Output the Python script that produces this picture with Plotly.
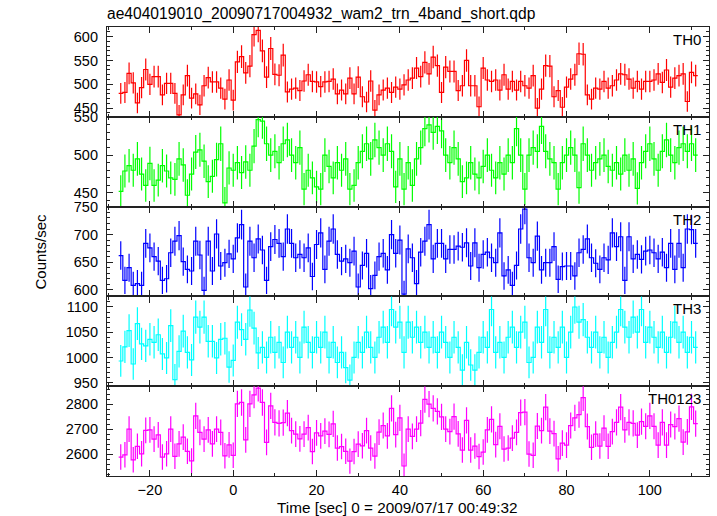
import numpy as np
import plotly.graph_objects as go
from plotly.subplots import make_subplots

time = list(range(-27, 112))  # 1-s bin centres

th0 = [481, 483, 523, 503, 461, 493, 531, 500, 516, 516, 478, 502, 502, 481, 436, 478, 518, 471, 480, 457,
       497, 514, 505, 505, 492, 469, 509, 467, 547, 558, 524, 538, 604, 613, 570, 515, 575, 521, 519, 561,
       484, 490, 492, 487, 507, 520, 506, 505, 495, 505, 506, 511, 480, 488, 480, 513, 480, 515, 474, 463,
       507, 446, 478, 488, 492, 483, 494, 490, 499, 509, 513, 534, 516, 546, 522, 557, 539, 483, 536, 527,
       527, 487, 497, 550, 497, 497, 453, 534, 509, 506, 509, 488, 520, 490, 506, 488, 506, 497, 492, 518,
       450, 490, 539, 538, 474, 487, 452, 494, 511, 520, 564, 563, 478, 469, 492, 490, 506, 492, 497, 509,
       522, 520, 511, 492, 506, 490, 506, 506, 509, 522, 504, 530, 494, 513, 518, 522, 464, 525, 518]

th1 = [452, 479, 486, 480, 495, 475, 460, 489, 460, 467, 486, 479, 470, 468, 495, 487, 447, 475, 504, 507,
       492, 465, 472, 494, 515, 437, 483, 480, 490, 477, 491, 480, 512, 547,
       545, 515, 500, 505, 490, 515, 520, 500, 490, 510, 455, 480, 470, 458, 455, 500, 485, 470, 490, 480,
       495, 455, 460, 490, 505, 515, 495, 520, 510, 500, 515, 505, 458, 495, 455, 490, 460, 495, 510, 535,
       540, 530, 538, 532, 500, 490, 510, 495, 465, 470, 490, 475, 470, 485, 500, 480, 470, 490, 475, 500,
       490, 535, 500, 455, 500, 510, 505, 538, 505, 495, 490, 455, 490, 500, 510, 500, 457, 515, 500, 480,
       490, 495, 500, 485, 480, 490, 475, 500, 480, 495, 456, 490, 505, 515, 495, 480, 505, 520, 500, 490,
       510, 515, 505, 515, 500]

th2 = [662, 617, 640, 608, 611, 608, 684, 676, 660, 652, 617, 620, 667, 688, 698, 651, 637, 634, 688, 663,
       599, 688, 634, 701, 643, 649, 665, 656, 694, 718, 605, 688, 658, 692, 672, 617, 678, 691, 684, 660,
       710, 684, 658, 664, 658, 676, 624, 682, 703, 637, 688, 710, 664, 652, 656, 649, 670, 605, 644, 666,
       602, 626, 660, 666, 636, 700, 666, 690, 592, 674, 658, 611, 668, 688, 718, 656, 684, 684, 656, 673,
       673, 679, 677, 685, 643, 685, 640, 664, 668, 658, 649, 703, 625, 636, 608, 644, 710, 746, 658, 649,
       697, 636, 649, 649, 678, 619, 642, 643, 643, 625, 667, 673, 692, 658, 648, 637, 658, 654, 703, 678,
       696, 617, 696, 656, 664, 655, 670, 672, 667, 656, 668, 640, 684, 637, 684, 640, 710, 709, 684]

th3 = [993, 1021, 1053, 987, 1067, 1027, 1023, 1036, 1030, 1045, 1007, 999, 1063, 956, 1012, 1052, 1010, 995,
       1080, 1060, 1080, 1032, 1032, 999, 1036, 1038, 981, 994, 1070, 1055, 1036, 1094, 1058, 1009,
       1020, 1000, 1040, 1010, 1030, 990, 1050, 1020, 1040, 1000, 1060, 1030, 1010, 1040, 1020, 1050, 1000,
       1030, 990, 1010, 980, 955, 1000, 1030, 1010, 1050, 1020, 1000, 1040, 1060, 1030, 1095, 1060, 1070,
       1010, 1070, 1040, 1060, 1030, 1050, 1020, 1040, 1010, 1050, 1030, 1000, 1040, 1020, 975, 1030, 985,
       975, 1010, 1040, 1020, 1095, 1010, 1030, 1000, 1040, 1060, 1020, 1050, 1070, 990, 1000, 1060, 1030,
       1095, 1010, 1040, 1020, 1060, 1000, 1050, 1100, 1070, 1075, 1040, 1020, 1050, 1010, 1040, 1000, 1030,
       1050, 1095, 1060, 1040, 1080, 1050, 1095, 1030, 1060, 1040, 1020, 1050, 1010, 1040, 1070, 1030, 1050,
       1010, 1040, 1020]

th0123 = [2588, 2597, 2700, 2577, 2631, 2601, 2695, 2697, 2660, 2677, 2588, 2601, 2700, 2591, 2641,
          2668, 2611, 2573, 2753, 2687, 2660, 2697, 2641, 2700, 2687, 2593, 2637, 2595, 2801, 2807,
          2657, 2801, 2837, 2864,
          2807, 2647, 2793, 2727, 2723, 2726, 2764, 2694, 2680, 2661, 2680, 2706, 2610, 2685, 2673, 2692,
          2679, 2721, 2624, 2630,
          2611, 2572, 2610, 2640, 2633, 2694, 2624, 2592, 2688, 2714, 2673, 2783, 2678, 2745, 2552, 2700,
          2671, 2700, 2724, 2819,
          2800, 2783, 2771, 2749, 2700, 2690, 2750, 2681, 2616, 2735, 2616, 2632, 2590, 2608, 2697, 2739,
          2638, 2711, 2620, 2624,
          2664, 2687, 2766, 2768, 2600, 2595, 2712, 2694, 2788, 2692, 2682, 2581, 2644, 2636, 2714, 2745,
          2758, 2826, 2710, 2627,
          2680, 2632, 2704, 2631, 2690, 2727, 2788, 2697, 2727, 2723, 2676, 2730, 2711, 2753, 2711, 2636,
          2727, 2636, 2718, 2710,
          2742, 2648, 2689, 2789, 2722]

panel_names = ["TH0", "TH1", "TH2", "TH3", "TH0123"]
series = [th0, th1, th2, th3, th0123]
colors = ["#ff0000", "#00ff00", "#0000ff", "#00ffff", "#ff00ff"]
y_ranges = [[432, 620], [432, 550.6], [588, 750.6], [943, 1121], [2512, 2872]]
y_dticks = [50, 50, 50, 50, 100]
y_minor = [10, 10, 10, 10, 20]

font = "Liberation Sans, Arial, Helvetica, sans-serif"
axcol = "#222222"

fig = make_subplots(rows=5, cols=1, shared_xaxes=True, vertical_spacing=0)
edges = [t - 0.5 for t in time] + [time[-1] + 0.5]

for i, vals in enumerate(series):
    r = i + 1
    col = colors[i]
    fig.add_trace(go.Scatter(x=edges, y=list(vals) + [vals[-1]], mode="lines",
                             line=dict(shape="hv", color=col, width=1.2), hoverinfo="skip"),
                  row=r, col=1)
    fig.add_trace(go.Scatter(x=time, y=vals, mode="markers",
                             marker=dict(size=1, color=col),
                             error_y=dict(type="data", array=np.sqrt(np.array(vals, float)),
                                          visible=True, color=col, thickness=1.2, width=0)),
                  row=r, col=1)
    fig.update_yaxes(range=y_ranges[i], dtick=y_dticks[i], tick0=0, ticks="inside", ticklen=6,
                     tickwidth=1, tickcolor=axcol, showline=True, linecolor=axcol, linewidth=1.2,
                     mirror="ticks", showgrid=False, zeroline=False, automargin=False,
                     minor=dict(dtick=y_minor[i], ticks="inside", ticklen=3, tickcolor=axcol),
                     tickfont=dict(size=14.5, color="black", family=font),
                     ticklabelstandoff=5, row=r, col=1)
    fig.update_xaxes(range=[-30.3, 114.2], dtick=20, tick0=0, ticks="inside", ticklen=6,
                     tickwidth=1, tickcolor=axcol, showline=True, linecolor=axcol,
                     linewidth=1.2, mirror="ticks", showgrid=False, zeroline=False,
                     automargin=False,
                     minor=dict(dtick=10, ticks="inside", ticklen=3, tickcolor=axcol),
                     tickfont=dict(size=14.5, color="black", family=font), row=r, col=1)
    dom = fig.layout["yaxis" + ("" if r == 1 else str(r))].domain
    fig.add_annotation(text=panel_names[i], xref="paper", yref="paper", x=1, y=dom[1],
                       xanchor="right", yanchor="top", xshift=-6, yshift=-2, showarrow=False,
                       font=dict(size=15, color="black", family=font))

fig.add_annotation(text="Time [sec] 0 = 2009/07/17 00:49:32", xref="paper", yref="paper",
                   x=(397 - 107) / 602, y=(476 - 507) / 449, xanchor="center", yanchor="middle",
                   showarrow=False, font=dict(size=15.3, color="black", family=font))
fig.add_annotation(text="Counts/sec", xref="paper", yref="paper", x=(40 - 107) / 602, y=0.5,
                   textangle=-90, showarrow=False, xanchor="center", yanchor="middle",
                   font=dict(size=15, color="black", family=font))
fig.update_layout(width=717, height=516, margin=dict(l=107, r=8, t=27, b=40),
                  paper_bgcolor="white", plot_bgcolor="white", showlegend=False,
                  title=dict(text="ae404019010_20090717004932_wam2_trn_4band_short.qdp",
                             x=107 / 717, xanchor="left", y=1 - 14 / 516, yanchor="middle",
                             font=dict(size=15.6, color="black", family=font)))
fig.write_html("out.html", config={"displayModeBar": False},
               post_script="document.body.style.margin='0';document.body.style.overflow='hidden';")
